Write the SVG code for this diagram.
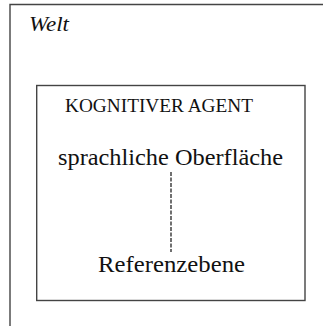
<svg xmlns="http://www.w3.org/2000/svg" width="323" height="326" viewBox="0 0 323 326">
<style>
.box{fill:none;stroke:#444;stroke-width:1.4}
text{fill:#111}
</style>
<rect width="323" height="326" fill="#fff"/>
<g id="welt">
<path class="box" d="M10,326 V4.5 H323"/>
<text x="29" y="31" font-family="'Liberation Serif', 'Times New Roman', 'DejaVu Serif', serif" font-size="21.5" font-style="italic" textLength="40" lengthAdjust="spacingAndGlyphs">Welt</text>
</g>
<g id="agent">
<rect class="box" x="36.7" y="85.5" width="268.3" height="215"/>
<text x="65" y="112.3" font-family="'Liberation Serif', 'Times New Roman', 'DejaVu Serif', serif" font-size="19" textLength="188" lengthAdjust="spacingAndGlyphs">KOGNITIVER AGENT</text>
</g>
<g id="oberflaeche">
<text x="58" y="164.5" font-family="'Liberation Serif', 'Times New Roman', 'DejaVu Serif', serif" font-size="22.5" textLength="225" lengthAdjust="spacingAndGlyphs">sprachliche Oberfläche</text>
</g>
<g id="referenzebene">
<text x="98" y="271.7" font-family="'Liberation Serif', 'Times New Roman', 'DejaVu Serif', serif" font-size="23.5" textLength="147" lengthAdjust="spacingAndGlyphs">Referenzebene</text>
</g>
<g id="connectors">
<line x1="171" y1="172" x2="171" y2="252" stroke="#111" stroke-width="1.2" stroke-dasharray="4,1.5"/>
</g>
</svg>
